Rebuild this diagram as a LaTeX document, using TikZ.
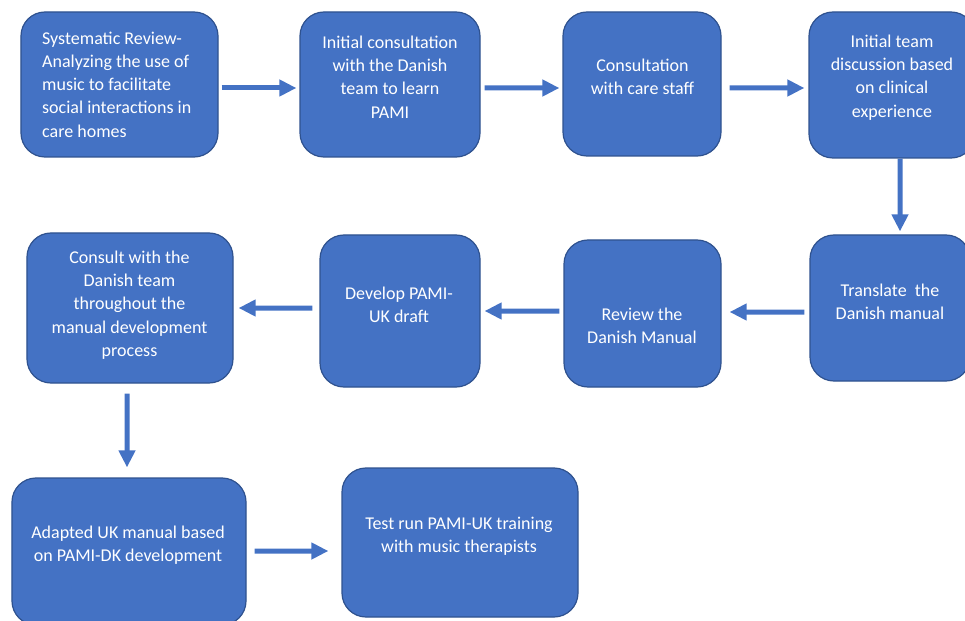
\documentclass[tikz,border=0pt]{standalone}
\usepackage{fontspec}
\setmainfont{Carlito}
\usepackage{tikz}
\usetikzlibrary{arrows.meta}
\definecolor{stepfill}{RGB}{68,114,196}
\definecolor{stepline}{RGB}{47,82,143}
\tikzset{
  stepbox/.style={draw=stepline,fill=stepfill,line width=1.2bp,rounded corners=24bp,inner sep=0pt},
  steptext/.style={text=white,align=center,inner sep=0pt,font=\fontsize{18.07}{23.4}\selectfont},
  flow/.style={draw=stepfill,line width=5bp,-{Triangle[length=17bp,width=16bp]}}
}

\begin{document}
\begin{tikzpicture}[x=1bp,y=-1bp]
\useasboundingbox (0,0) rectangle (965,621);
\clip (0,0) rectangle (965,621);

% Boxes
\node(review)[stepbox,minimum width=197bp,minimum height=145bp] at (119.5,84.5){};
\node(learn)[stepbox,minimum width=180bp,minimum height=145bp] at (390,84.5){};
\node(staff)[stepbox,minimum width=158bp,minimum height=144bp] at (642,84){};
\node(discussion)[stepbox,minimum width=166bp,minimum height=146bp] at (892,85){};
\node(translate)[stepbox,minimum width=160bp,minimum height=146bp] at (890,308){};
\node(manual)[stepbox,minimum width=157bp,minimum height=147bp] at (642.5,313.5){};
\node(draft)[stepbox,minimum width=160bp,minimum height=152bp] at (400,311){};
\node(consult)[stepbox,minimum width=206bp,minimum height=150bp] at (130,308){};
\node(adapted)[stepbox,minimum width=234bp,minimum height=147bp] at (129,551.5){};
\node(testrun)[stepbox,minimum width=236bp,minimum height=149bp] at (460,542.5){};

% Texts
\node(review-t)[steptext,align=left,anchor=west] at (42,84.5){Systematic Review-\\Analyzing the use of\\music to facilitate\\social interactions in\\care homes};
\node(learn-t)[steptext] at (390,77){Initial consultation\\with the Danish\\team to learn\\PAMI};
\node(staff-t)[steptext] at (642.5,76.5){Consultation\\with care staff};
\node(discussion-t)[steptext] at (892,77.5){Initial team\\discussion based\\on clinical\\experience};
\node(translate-t)[steptext] at (890,301.5){Translate~ the\\Danish manual};
\node(manual-t)[steptext] at (642,326){Review the\\Danish Manual};
\node(draft-t)[steptext] at (399,305){Develop PAMI-\\UK draft};
\node(consult-t)[steptext] at (129.5,305){Consult with the\\Danish team\\throughout the\\manual development\\process};
\node(adapted-t)[steptext] at (128,545.5){Adapted UK manual based\\on PAMI-DK development};
\node(testrun-t)[steptext] at (459,536){Test run PAMI-UK training\\with music therapists};

% Arrows
\draw[flow,shorten <=3bp,shorten >=3bp] ([yshift=-3.5bp]review.east) -- ([yshift=-3.5bp]learn.west);
\draw[flow,shorten <=4bp,shorten >=3bp] ([yshift=-3.5bp]learn.east) -- ([yshift=-4bp]staff.west);
\draw[flow,shorten <=8bp,shorten >=4bp] ([yshift=-4bp]staff.east) -- ([yshift=-3bp]discussion.west);
\draw[flow,shorten >=3bp] ([xshift=8bp]discussion.south) -- ([xshift=10bp]translate.north);
\draw[flow,shorten <=5bp,shorten >=8bp] ([yshift=-4bp]translate.west) -- ([yshift=1.5bp]manual.east);
\draw[flow,shorten <=4bp,shorten >=4bp] ([yshift=2.5bp]manual.west) -- (draft.east);
\draw[flow,shorten <=7bp,shorten >=5bp] ([yshift=3bp]draft.west) -- (consult.east);
\draw[flow,shorten <=10bp,shorten >=10bp] ([xshift=-3bp]consult.south) -- ([xshift=-2bp]adapted.north);
\draw[flow,shorten <=8bp,shorten >=13bp] ([yshift=0.5bp]adapted.east) -- ([yshift=-8.5bp]testrun.west);
\end{tikzpicture}
\end{document}
